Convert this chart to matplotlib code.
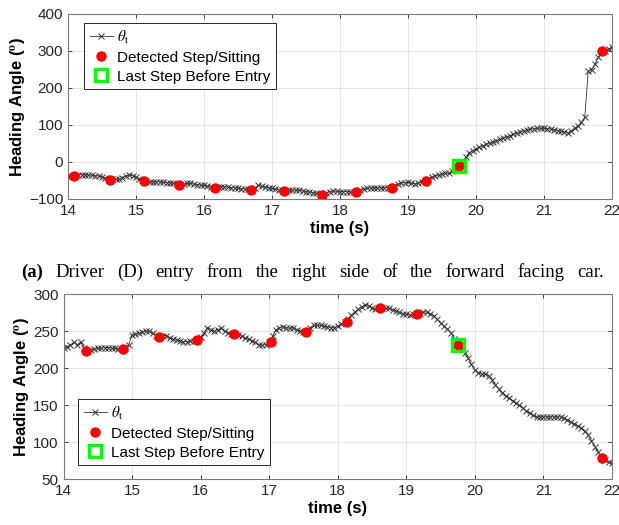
import matplotlib.pyplot as plt
import numpy as np

# heading angle samples, 14 s .. 22 s every 0.05 s
t_start, t_step = 14.0, 0.05

theta_top = [
    -41, -39, -37, -35, -34, -35, -35, -36, -37, -38,
    -40, -43, -45, -46, -47, -47, -42, -37, -36, -37,
    -41, -45, -48, -51, -53, -54, -54, -53, -55, -56,
    -56, -58, -60, -61, -59, -58, -58, -60, -61, -63,
    -63, -65, -67, -69, -68, -67, -67, -68, -69, -70,
    -71, -72, -73, -74, -75, -70, -63, -66, -68, -70,
    -71, -73, -75, -77, -78, -77, -76, -76, -76, -78,
    -80, -81, -83, -85, -87, -88, -84, -80, -79, -79,
    -80, -80, -80, -81, -82, -81, -77, -73, -71, -70,
    -70, -70, -70, -70, -69, -69, -65, -60, -57, -56,
    -55, -57, -59, -57, -54, -51, -46, -41, -37, -35,
    -33, -31, -30, -25, -18, -11, 0, 13, 25, 31,
    36, 40, 44, 48, 51, 54, 58, 61, 64, 68,
    71, 75, 78, 81, 84, 87, 89, 90, 91, 91,
    91, 90, 89, 87, 85, 83, 81, 79, 84, 91,
    97, 107, 121, 245, 248, 265, 283, 298, 301, 306,
    311,
]

theta_bot = [
    228, 229, 231, 235, 232, 235, 228, 223, 225, 226,
    227, 227, 228, 228, 227, 227, 226, 226, 228, 232,
    245, 246, 247, 249, 250, 250, 248, 243, 242, 244,
    244, 241, 239, 238, 237, 236, 236, 237, 237, 238,
    242, 248, 255, 252, 250, 252, 254, 250, 247, 246,
    246, 245, 243, 241, 239, 237, 235, 232, 231, 232,
    235, 243, 252, 255, 256, 255, 254, 255, 252, 250,
    249, 250, 255, 258, 258, 258, 257, 256, 255, 255,
    257, 260, 262, 266, 272, 276, 280, 283, 286, 284,
    281, 280, 281, 281, 281, 281, 279, 277, 276, 274,
    273, 272, 273, 273, 274, 276, 276, 274, 271, 266,
    261, 257, 253, 248, 240, 231, 226, 221, 214, 205,
    198, 194, 192, 192, 190, 184, 177, 172, 167, 163,
    160, 156, 153, 150, 146, 142, 139, 136, 134, 134,
    134, 134, 134, 134, 134, 134, 132, 130, 127, 125,
    122, 119, 115, 110, 102, 94, 86, 79, 76, 73,
    71,
]

step_t_top = [14.09, 14.62, 15.11, 15.63, 16.16, 16.69, 17.18, 17.74,
              18.24, 18.76, 19.26, 19.75, 21.86]
step_v_top = [-38, -48, -52, -61, -69, -75, -79, -88, -82, -69, -51, -11, 299]
last_top = (19.75, -11)

step_t_bot = [14.33, 14.87, 15.39, 15.95, 16.48, 17.02, 17.54, 18.13,
              18.62, 19.15, 19.75, 21.86]
step_v_bot = [223, 226, 242, 238, 246, 235.5, 249, 262.6, 281, 273.4, 231.5, 78]
last_bot = (19.75, 231.5)

caption_words = ['(a)', 'Driver', '(D)', 'entry', 'from', 'the', 'right',
                 'side', 'of', 'the', 'forward', 'facing', 'car.']

plt.rcParams['font.family'] = ['Liberation Sans', 'DejaVu Sans']
plt.rcParams['mathtext.fontset'] = 'stix'

fig = plt.figure(figsize=(6.19, 5.25), dpi=100)
ax1 = fig.add_axes([0.1099, 0.6210, 0.8788, 0.3524])
ax2 = fig.add_axes([0.1026, 0.0876, 0.8861, 0.3518])


def draw(ax, theta, st, sv, last, yticks, loc, anchor):
    t = t_start + t_step * np.arange(len(theta))
    ax.plot(t, theta, '-x', color='#333333', lw=0.6, ms=4.2, mew=0.7,
            label=r'$\theta_{\rm t}$')
    ax.plot(st, sv, 'o', color='#ff0000', ms=6.5, ls='none',
            label='Detected Step/Sitting')
    ax.plot([last[0]], [last[1]], 's', mfc='none', mec='#00ff00', mew=2.4,
            ms=8, ls='none', label='Last Step Before Entry')
    ax.set_xlim(14, 22)
    ax.set_xticks(range(14, 23))
    ax.set_ylim(yticks[0], yticks[-1])
    ax.set_yticks(yticks)
    ax.grid(True, color='#e4e4e4', lw=0.7)
    ax.set_axisbelow(True)
    ax.tick_params(direction='in', top=True, right=True, labelsize=11,
                   colors='#262626', length=3, width=0.6)
    for s in ax.spines.values():
        s.set_color('#7a7a7a')
        s.set_linewidth(0.8)
    ax.set_xlabel('time (s)', fontsize=12, fontweight='bold', labelpad=2)
    ax.set_ylabel(r'Heading Angle ($^{\mathbf{o}}$)', fontsize=12,
                  fontweight='bold', labelpad=0.5)
    leg = ax.legend(loc=loc, bbox_to_anchor=anchor, fontsize=11,
                    fancybox=False, framealpha=1, edgecolor='#262626',
                    borderpad=0.35, labelspacing=0.33, handlelength=1.5,
                    handletextpad=0.3, borderaxespad=0)
    leg.get_frame().set_linewidth(0.7)


draw(ax1, theta_top, step_t_top, step_v_top, last_top,
     [-100, 0, 100, 200, 300, 400], 'upper left', (0.03, 0.95))
draw(ax2, theta_bot, step_t_bot, step_v_bot, last_bot,
     [50, 100, 150, 200, 250, 300], 'lower left', (0.027, 0.075))

# caption, justified between x=21 px and x=604 px
cap_y = 1 - 277 / 525
x0, x1 = 21, 604
texts = []
for i, w in enumerate(caption_words):
    texts.append(fig.text(0, cap_y, w, fontsize=13.5,
                          fontweight='bold' if i == 0 else 'normal',
                          family='Liberation Serif', va='baseline',
                          ha='left'))
renderer = fig.canvas.get_renderer()
widths = [tx.get_window_extent(renderer).width for tx in texts]
gap = (x1 - x0 - sum(widths)) / (len(texts) - 1)
x = x0
for tx, wd in zip(texts, widths):
    tx.set_x(x / 619)
    x += wd + gap

fig.savefig('out.png', dpi=100)
